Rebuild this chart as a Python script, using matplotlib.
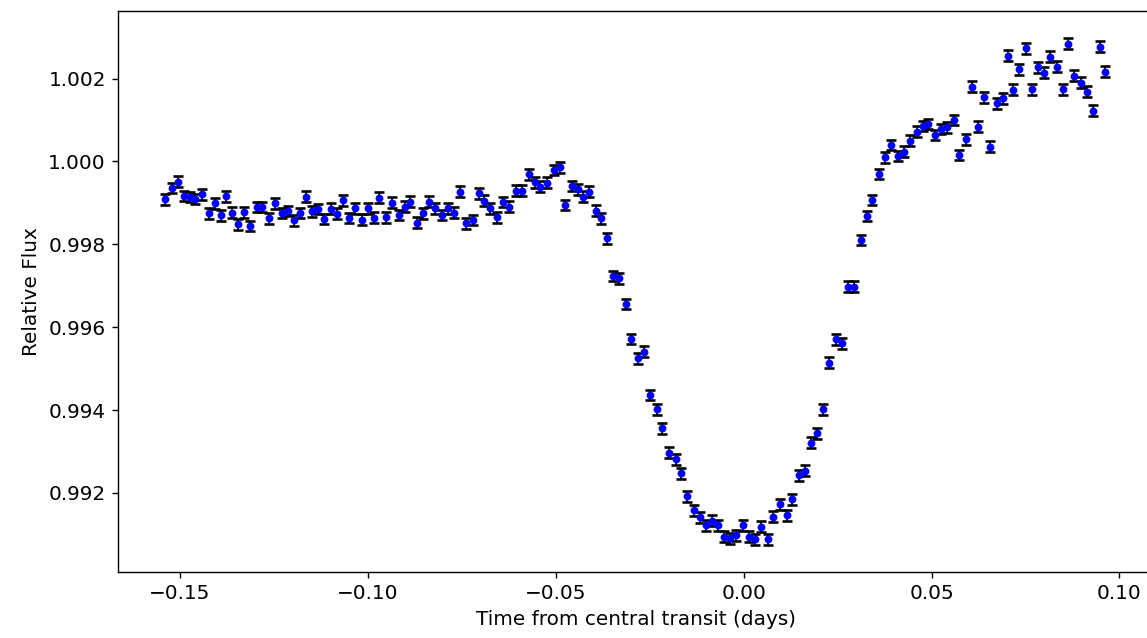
import numpy as np
import matplotlib
matplotlib.use("Agg")
import matplotlib.pyplot as plt

# time from central transit (days)
time_days = [
    -0.15397, -0.15218, -0.15042, -0.14891, -0.14744, -0.14598, -0.14419, -0.14238,
    -0.14057, -0.13905, -0.13772, -0.13620, -0.13458, -0.13292, -0.13133, -0.12960,
    -0.12813, -0.12645, -0.12467, -0.12299, -0.12134, -0.11979, -0.11814, -0.11654,
    -0.11489, -0.11327, -0.11169, -0.10993, -0.10823, -0.10663, -0.10503, -0.10336,
    -0.10168, -0.10003, -0.09848, -0.09696, -0.09510, -0.09358, -0.09182, -0.09022,
    -0.08870, -0.08692, -0.08532, -0.08383, -0.08205, -0.08026, -0.07877, -0.07717,
    -0.07557, -0.07379, -0.07200, -0.07051, -0.06899, -0.06739, -0.06561, -0.06401,
    -0.06239, -0.06047, -0.05895, -0.05719, -0.05549, -0.05408, -0.05229, -0.05053,
    -0.04893, -0.04742, -0.04563, -0.04414, -0.04270, -0.04121, -0.03942, -0.03809,
    -0.03631, -0.03476, -0.03308, -0.03143, -0.02991, -0.02816, -0.02656, -0.02496,
    -0.02318, -0.02166, -0.01990, -0.01811, -0.01660, -0.01500, -0.01324, -0.01164,
    -0.01012, -0.00834, -0.00685, -0.00525, -0.00365, -0.00213, -0.00008, 0.00141,
    0.00293, 0.00471, 0.00647, 0.00791, 0.00967, 0.01145, 0.01297, 0.01473,
    0.01625, 0.01785, 0.01963, 0.02123, 0.02272, 0.02451, 0.02629, 0.02770,
    0.02930, 0.03117, 0.03276, 0.03428, 0.03604, 0.03756, 0.03934, 0.04110,
    0.04270, 0.04430, 0.04608, 0.04760, 0.04909, 0.05088, 0.05248, 0.05416,
    0.05586, 0.05735, 0.05906, 0.06066, 0.06241, 0.06401, 0.06561, 0.06739,
    0.06891, 0.07030, 0.07174, 0.07334, 0.07512, 0.07664, 0.07824, 0.07983,
    0.08159, 0.08338, 0.08490, 0.08639, 0.08799, 0.08977, 0.09137, 0.09305,
    0.09483, 0.09624,
]

rel_flux = [
    0.999087, 0.999360, 0.999512, 0.999167, 0.999143, 0.999094, 0.999203, 0.998749,
    0.998986, 0.998696, 0.999155, 0.998763, 0.998478, 0.998768, 0.998442, 0.998901,
    0.998901, 0.998628, 0.998990, 0.998756, 0.998805, 0.998580, 0.998756, 0.999150,
    0.998800, 0.998853, 0.998611, 0.998858, 0.998739, 0.999058, 0.998635, 0.998870,
    0.998594, 0.998870, 0.998640, 0.999123, 0.998652, 0.999005, 0.998708, 0.998908,
    0.999029, 0.998522, 0.998749, 0.999029, 0.998870, 0.998708, 0.998870, 0.998763,
    0.999271, 0.998508, 0.998587, 0.999232, 0.999053, 0.998870, 0.998652, 0.999022,
    0.998908, 0.999295, 0.999295, 0.999693, 0.999500, 0.999391, 0.999488, 0.999795,
    0.999860, 0.998949, 0.999408, 0.999329, 0.999150, 0.999271, 0.998812, 0.998628,
    0.998145, 0.997235, 0.997179, 0.996559, 0.995713, 0.995247, 0.995407, 0.994361,
    0.994016, 0.993557, 0.992966, 0.992807, 0.992469, 0.991921, 0.991583, 0.991407,
    0.991221, 0.991325, 0.991221, 0.990939, 0.990900, 0.990980, 0.991221, 0.990939,
    0.990876, 0.991180, 0.990876, 0.991422, 0.991729, 0.991463, 0.991842, 0.992429,
    0.992533, 0.993208, 0.993436, 0.994016, 0.995141, 0.995706, 0.995609, 0.996976,
    0.996976, 0.998104, 0.998684, 0.999070, 0.999698, 1.000101, 1.000398, 1.000133,
    1.000237, 1.000502, 1.000720, 1.000857, 1.000906, 1.000640, 1.000785, 1.000826,
    1.001002, 1.000157, 1.000536, 1.001806, 1.000841, 1.001550, 1.000357, 1.001406,
    1.001526, 1.002548, 1.001727, 1.002227, 1.002734, 1.001744, 1.002275, 1.002145,
    1.002531, 1.002289, 1.001744, 1.002838, 1.002065, 1.001903, 1.001686, 1.001227,
    1.002772, 1.002169,
]

flux_err = 0.00013

plt.rcParams["font.size"] = 11.5

fig = plt.figure(figsize=(1147 / 125, 638 / 125), dpi=125)
ax = fig.add_axes([0.1029, 0.1034, 0.9032, 0.8793])

ax.errorbar(time_days, rel_flux, yerr=flux_err, fmt="bo", markersize=3.5,
            ecolor="k", elinewidth=1, capsize=3, capthick=1.5)

ax.set_xlim(-0.1665, 0.1092)
ax.set_ylim(0.99009, 1.00363)
ax.set_xlabel("Time from central transit (days)")
ax.set_ylabel("Relative Flux")

fig.savefig("out.png", dpi=125)
